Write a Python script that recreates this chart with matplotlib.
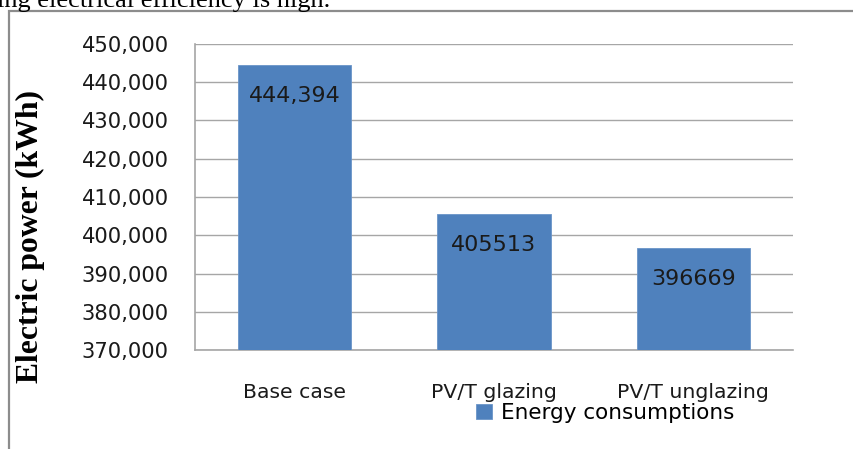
import matplotlib
matplotlib.use("Agg")
import matplotlib.pyplot as plt
from matplotlib.patches import Rectangle
from matplotlib.ticker import FuncFormatter, MultipleLocator

# data
categories = ["Base case", "PV/T glazing", "PV/T unglazing"]
values = [444394, 405513, 396669]
bar_labels = ["444,394", "405513", "396669"]
series_name = "Energy consumptions"

blue = "#4F81BD"
grid_gray = "#A6A6A6"

fig = plt.figure(figsize=(8.54, 4.49), dpi=100)

# page text cut at the top and chart frame
fig.text(-0.003, 1 - 7 / 449, "ing electrical efficiency is high.",
         family="Liberation Serif", fontsize=19, va="baseline", ha="left")
fig.patches.append(Rectangle((8.5 / 854, -0.2), 2, 1.2 - 11 / 449,
                             transform=fig.transFigure, fill=False,
                             edgecolor="#8C8C8C", linewidth=1.6))

ax = fig.add_axes([195 / 854, 1 - 350 / 449, 598 / 854, 306 / 449])

x = range(len(categories))
bars = ax.bar(x, values, width=0.57, color=blue, edgecolor="#6A94C8",
              linewidth=0.6, label=series_name, zorder=3)

for xi, v, s in zip(x, values, bar_labels):
    ax.annotate(s, (xi, v), xytext=(0, -22), textcoords="offset points",
                ha="center", va="center", fontsize=16, color="#1a1a1a",
                zorder=4)

ax.set_xlim(-0.5, 2.5)
ax.set_ylim(370000, 450000)
ax.yaxis.set_major_locator(MultipleLocator(10000))
ax.yaxis.set_major_formatter(FuncFormatter(lambda v, p: f"{int(v):,}"))
ax.set_xticks(list(x))
ax.set_xticklabels(categories)

ax.grid(axis="y", color=grid_gray, linewidth=1.0, zorder=0)
ax.set_axisbelow(True)
for side in ["top", "right"]:
    ax.spines[side].set_visible(False)
for side in ["left", "bottom"]:
    ax.spines[side].set_color(grid_gray)
    ax.spines[side].set_linewidth(1.2)

ax.tick_params(axis="y", length=0, pad=19, labelsize=15.2, labelcolor="#1a1a1a")
ax.tick_params(axis="x", length=0, pad=24, labelsize=14.7, labelcolor="#1a1a1a")

ax.set_ylabel("Electric power (kWh)", family="Liberation Serif",
              fontweight="bold", fontsize=22.8)
ax.yaxis.set_label_coords(-0.251, 0.371)

fig.legend(handles=[bars], labels=[series_name], loc="center",
           bbox_to_anchor=(605 / 854, 1 - 413 / 449), frameon=False,
           fontsize=15.5, handlelength=0.75, handleheight=0.75,
           handletextpad=0.4, borderpad=0)

fig.savefig("out.png", dpi=100)
